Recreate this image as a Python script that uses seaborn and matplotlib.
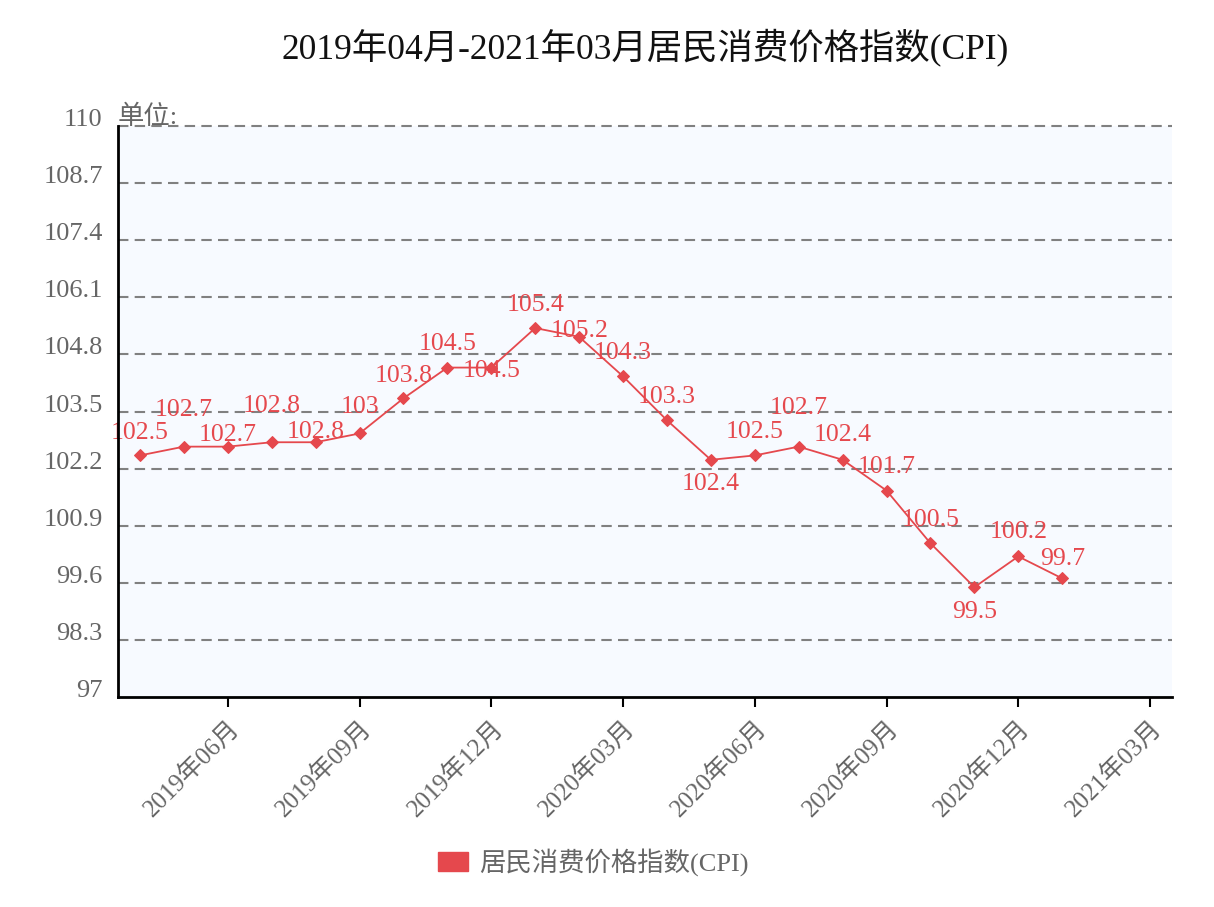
import matplotlib
matplotlib.use("Agg")
import matplotlib.pyplot as plt
import matplotlib.patches as mpatches
import seaborn as sns
import pandas as pd

# ---- data ----
months = ["2019-04", "2019-05", "2019-06", "2019-07", "2019-08", "2019-09",
          "2019-10", "2019-11", "2019-12", "2020-01", "2020-02", "2020-03",
          "2020-04", "2020-05", "2020-06", "2020-07", "2020-08", "2020-09",
          "2020-10", "2020-11", "2020-12", "2021-01"]
cpi = [102.5, 102.7, 102.7, 102.8, 102.8, 103.0, 103.8, 104.5, 104.5, 105.4,
       105.2, 104.3, 103.3, 102.4, 102.5, 102.7, 102.4, 101.7, 100.5, 99.5,
       100.2, 99.7]
tick_labels = ["2019年06月", "2019年09月", "2019年12月", "2020年03月",
               "2020年06月", "2020年09月", "2020年12月", "2021年03月"]
y_ticks = [97, 98.3, 99.6, 100.9, 102.2, 103.5, 104.8, 106.1, 107.4, 108.7, 110]
series_name = "居民消费价格指数(CPI)"
title = "2019年04月-2021年03月居民消费价格指数(CPI)"

# label vertical offsets in pixels (styling only)
label_dy = [22, 37, 12, 36, 10, 26, 22, 24, -3, 23, 6, 23, 23, -24, 23, 39,
            25, 24, 23, -25, 24, 19]

sns.set_theme(style="white")
plt.rcParams["font.family"] = ["Liberation Serif", "Noto Sans CJK SC", "DejaVu Sans"]
plt.rcParams["axes.unicode_minus"] = False

RED = "#E5484D"
GRAY = "#666666"

df = pd.DataFrame({"idx": range(len(cpi)), "cpi": cpi, "month": months})

fig = plt.figure(figsize=(12.14, 9.07), dpi=100)
ax = fig.add_axes([118 / 1214, 1 - 697 / 907, (1172 - 118) / 1214, (697 - 126) / 907])
ax.set_facecolor("#F7FAFF")

sns.lineplot(data=df, x="idx", y="cpi", ax=ax, color=RED, linewidth=1.3,
             marker="D", markersize=6.5, markeredgecolor=RED, markerfacecolor=RED)

for i, (v, dy) in enumerate(zip(cpi, label_dy)):
    ax.annotate(f"{v:g}", xy=(i, v), xytext=(0, dy), textcoords="offset pixels",
                ha="center", va="center", color=RED, fontsize=18.5)

ax.set_xlim(-0.5, 23.5)
ax.set_ylim(97, 110)
ax.set_yticks(y_ticks)
ax.set_yticklabels([f"{t:g}" for t in y_ticks], va="baseline")
tick_pos = [2 + 3 * k for k in range(len(tick_labels))]
ax.set_xticks(tick_pos)
ax.set_xticklabels(tick_labels, rotation=45, ha="right", rotation_mode="anchor")

ax.tick_params(axis="y", length=0, pad=11, labelsize=19, labelcolor=GRAY)
ax.tick_params(axis="x", length=7, width=1.5, color="black", direction="out",
               pad=7, labelsize=18, labelcolor=GRAY, bottom=True)

ax.grid(False)
for t in y_ticks[1:]:
    ax.axhline(t, color="#808080", linewidth=1.5, linestyle=(0, (5, 3)), zorder=0.5,
               clip_on=False)

for s in ["top", "right"]:
    ax.spines[s].set_visible(False)
for s in ["left", "bottom"]:
    ax.spines[s].set_color("black")
    ax.spines[s].set_linewidth(2)
    ax.spines[s].set_zorder(3)

ax.set_xlabel("")
ax.set_ylabel("")

ax.annotate("单位:", xy=(0, 1), xycoords="axes fraction", xytext=(0, 9),
            textcoords="offset pixels", ha="left", va="center", color=GRAY, fontsize=19)

fig.text(645 / 1214, 1 - 47 / 907, title, ha="center", va="center",
         fontsize=25.5, color="#111111")

handle = mpatches.Patch(color=RED, label=series_name)
fig.legend(handles=[handle], loc="center", bbox_to_anchor=(593 / 1214, 1 - 862 / 907),
           frameon=False, fontsize=19, labelcolor=GRAY, handlelength=1.15,
           handleheight=0.76, handletextpad=0.4)

fig.savefig("out.png", dpi=100, facecolor="white")
